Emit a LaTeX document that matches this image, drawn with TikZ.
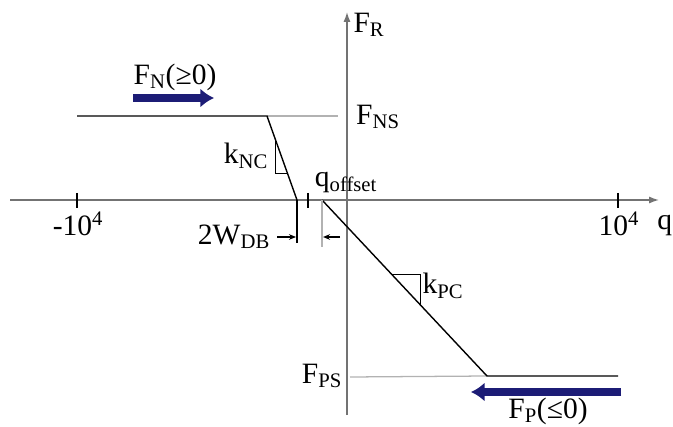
\documentclass[tikz,border=0pt]{standalone}
\usepackage{fontspec}
\setmainfont{Liberation Serif}
\usetikzlibrary{arrows,arrows.meta,calc}
\definecolor{navyarrow}{RGB}{28,28,118}
\tikzstyle{lbl}=[inner sep=0pt,font=\fontsize{21}{25}\selectfont]
\tikzstyle{curve}=[line width=1pt,black]
\tikzstyle{axis}=[line width=1pt,black!55]
\tikzstyle{guide}=[line width=0.9pt,black!30]
\tikzstyle{bigarrow}=[line width=5.5pt,navyarrow,-{Latex[length=0.34cm,width=0.48cm]}]
\tikzstyle{dimarrow}=[line width=0.8pt,-{Stealth[length=5pt,width=4pt]}]

\begin{document}
\begin{tikzpicture}[x=0.025cm,y=-0.025cm]
\useasboundingbox (0,0) rectangle (673,427);
\coordinate (xl) at (10,200);
\coordinate (xr) at (659,200);
\coordinate (yb) at (347,415);
\coordinate (yt) at (347,12);
\coordinate (nl) at (77,116);
\coordinate (ns) at (267,116);
\coordinate (db) at (297,200);
\coordinate (off) at (322,200);
\coordinate (ps) at (487,376);
\coordinate (pr) at (618,376);
\coordinate (dbb) at (297,243);
\coordinate (offb) at (322,247);
% guide lines to the axis
\draw[guide] (ns) -- (338,116);
\draw[guide] (350,377) -- (ps);
% axes
\draw[axis,-{Latex[length=7pt,width=5pt]}] (xl) -- (xr);
\draw[axis,-{Latex[length=7pt,width=5pt]}] (yb) -- (yt);
\draw[curve] (77,193) -- (77,208);
\draw[curve] (618,193) -- (618,208);
\draw[curve] (308,193) -- (308,208);
% characteristic
\draw[curve] (nl) -- (ns) -- (db);
\draw[curve] (off) -- (ps) -- (pr);
% slope triangles
\coordinate (nc1) at ($(ns)!0.27!(db)$);
\coordinate (nc2) at ($(ns)!0.68!(db)$);
\draw[line width=0.7pt] (nc1) -- (nc1 |- nc2) -- (nc2);
\coordinate (pc1) at ($(off)!0.424!(ps)$);
\coordinate (pc2) at ($(off)!0.594!(ps)$);
\draw[line width=0.7pt] (pc1) -- (pc1 -| pc2) -- (pc2);
% dead band and offset
\draw[curve] (db) -- (dbb);
\draw[guide] (off) -- (offb);
\node[lbl] (wdb) at (234,237) {2W\textsubscript{DB}};
\draw[dimarrow] (277,237) -- (296,237);
\draw[dimarrow] (340,237) -- (323,237);
% force arrows
\draw[bigarrow] (133,98) -- (214,98);
\draw[bigarrow] (621,392) -- (471,392);
% labels
\node[lbl] (fr) at (369,25) {F\textsubscript{R}};
\node[lbl] (fns) at (378,117) {F\textsubscript{NS}};
\node[lbl] (fps) at (322,376) {F\textsubscript{PS}};
\node[lbl] (fn) at (175,77) {F\textsubscript{N}(≥0)};
\node[lbl] (fp) at (548,411) {F\textsubscript{P}(≤0)};
\node[lbl] (mten) at (78,224) {-10\textsuperscript{4}};
\node[lbl] (ten) at (619,224) {10\textsuperscript{4}};
\node[lbl] (knc) at (246,156) {k\textsubscript{NC}};
\node[lbl] (kpc) at (443,286) {k\textsubscript{PC}};
\node[lbl] (qoff) at (346,183) {q\textsubscript{offset}};
\node[lbl,anchor=base west] (q) at (657,230) {q};
\end{tikzpicture}
\end{document}
